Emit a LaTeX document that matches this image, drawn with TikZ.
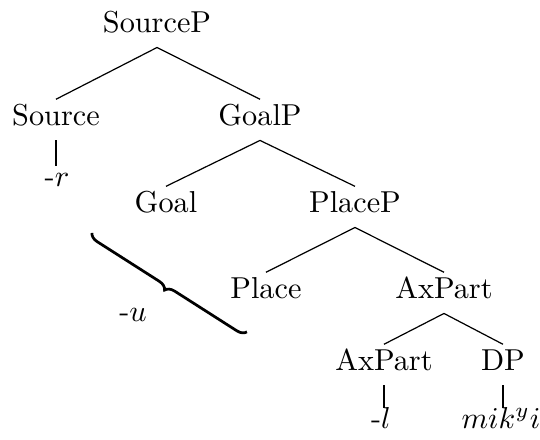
\documentclass[tikz,border=0pt]{standalone}
\usepackage{amsmath,amssymb}
\usepackage{tikz}
\usetikzlibrary{decorations.pathreplacing}

\begin{document}
\begin{tikzpicture}
	\tikzstyle{cat} = [inner sep=0pt, inner ysep=1.6pt, text height=7pt, text depth=3pt, anchor=base]
	\tikzstyle{exp} = [inner sep=0pt, inner ysep=1.6pt, text height=5pt, text depth=3pt, anchor=base]
	\tikzstyle{spell} = [draw=black, line width=0.8pt]
	\useasboundingbox (0,0) rectangle (6.27,5.108);
		\node[cat] (sp) at (1.823,4.725) {SourceP};
		\node[cat] (s) at (0.650,3.646) {Source};
		\node[cat] (gp) at (3.019,3.646) {GoalP};
		\node[cat] (g) at (1.927,2.635) {Goal};
		\node[cat] (pp) at (4.122,2.635) {PlaceP};
		\node[cat] (p) at (3.088,1.637) {Place};
		\node[cat] (axp) at (5.155,1.637) {AxPart};
		\node[cat] (ax) at (4.458,0.801) {AxPart};
		\node[cat] (dp) at (5.840,0.801) {DP};

		\node[exp] (r) at (0.662,2.937) {-$r$};
		\node[exp] (l) at (4.423,0.128) {-$l$};
		\node[exp] (mi) at (5.817,0.128) {$mik^yi$};
		\node[exp] (u) at (1.544,1.370) {-$u$};

		\draw (s.north) -- (sp.south) -- (gp.north);
		\draw (g.north) -- (gp.south) -- (pp.north);
		\draw (p.north) -- (pp.south) -- (axp.north);
		\draw (ax.north) -- (axp.south) -- (dp.north);

		\draw[spell] (s.south) -- (s.south |- r.north);
		\draw[spell] (ax.south) -- (ax.south |- l.north);
		\draw[spell] (dp.south) -- (dp.south |- mi.north);

		\coordinate (b1) at (1.068,2.403);
		\coordinate (b2) at (2.868,1.254);
		\draw[line width=0.9pt, decorate, decoration={brace, mirror, amplitude=3pt}] (b1) -- (b2);
	\end{tikzpicture}
\end{document}
